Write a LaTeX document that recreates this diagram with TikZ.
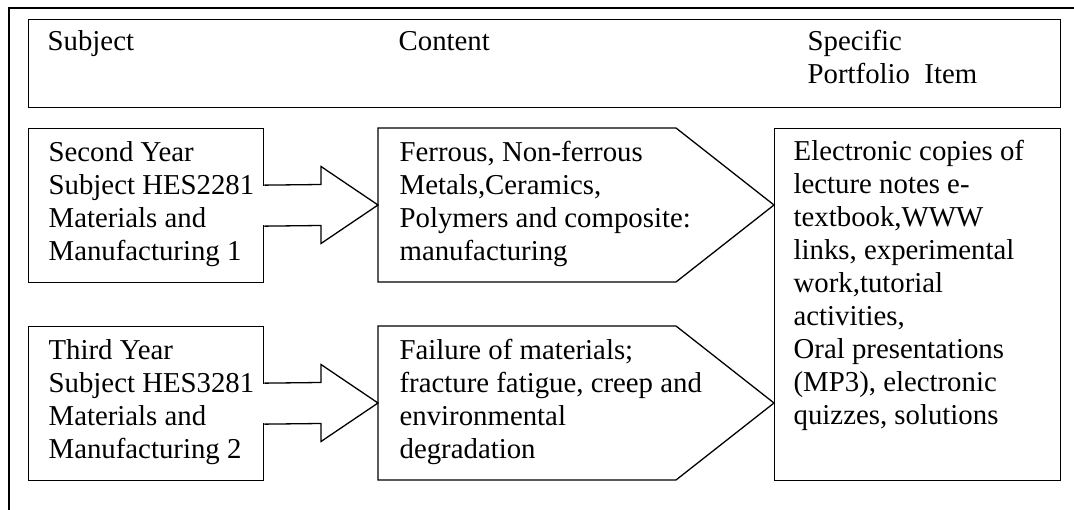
\documentclass[tikz,border=0pt]{standalone}
\usepackage{fontspec}
\setmainfont{Liberation Serif}
\usetikzlibrary{calc}
\begin{document}
\begin{tikzpicture}[x=1pt,y=-1pt,line width=1.3pt,line join=miter,
  frame/.style={draw, rectangle, inner sep=0pt, anchor=north west},
  txt/.style={inner sep=0pt, anchor=base west, font=\fontsize{28.8}{33}\selectfont},
  blockarrow/.style={draw, fill=white}]
\useasboundingbox (0,0) rectangle (1074,510);
% outer frame (top and left edges)
\coordinate (ofb) at (9,510);
\coordinate (ofc) at (9,8);
\coordinate (ofr) at (1074,8);
\draw (ofb) -- (ofc) -- (ofr);
% header
\node[frame, minimum width=1032pt, minimum height=88pt] (hdr) at (28,19) {};
\node[txt] (hsub) at (47,51) {Subject};
\node[txt] (hcon) at (398,51) {Content};
\node[txt] (hspe) at (807,51) {\parbox[t]{240pt}{Specific\\Portfolio\ \ Item}};
% subject boxes
\node[frame, minimum width=235pt, minimum height=154pt] (s1) at (28,128) {};
\node[frame, minimum width=235pt, minimum height=154pt] (s2) at (28,326) {};
\node[txt] (s1t) at (48,162) {\parbox[t]{230pt}{Second Year\\Subject HES2281\\Materials and\\Manufacturing 1}};
\node[txt] (s2t) at (48,360) {\parbox[t]{230pt}{Third Year\\Subject HES3281\\Materials and\\Manufacturing 2}};
% content chevrons
\coordinate (c1w) at (378,205);
\coordinate (c2w) at (378,403);
\coordinate (c1e) at (774,205);
\coordinate (c2e) at (774,403);
\draw (378,128) -- (676,128) -- (c1e) -- (676,282) -- (378,282) -- cycle;
\draw (378,326) -- (676,326) -- (c2e) -- (676,480) -- (378,480) -- cycle;
\node[txt] (c1t) at (399,162) {\parbox[t]{330pt}{Ferrous, Non-ferrous\\Metals,Ceramics,\\Polymers and composite:\\manufacturing}};
\node[txt] (c2t) at (399,360) {\parbox[t]{330pt}{Failure of materials;\\fracture fatigue, creep and\\environmental\\degradation}};
% portfolio box
\node[frame, minimum width=286pt, minimum height=352pt] (r) at (774,128) {};
\node[txt] (rt) at (793,161) {\parbox[t]{270pt}{Electronic copies of\\lecture notes e-\\textbook,WWW\\links, experimental\\work,tutorial\\activities,\\Oral presentations\\(MP3), electronic\\quizzes, solutions}};
% block arrows
\fill[white] ($(s1.east)+(-1.5,-19.8)$) rectangle ($(s1.east)+(2,19.8)$);
\draw[blockarrow] ($(s1.east)+(0,-20.5)$) -- ($(c1w)+(-57,-20.5)$) -- ($(c1w)+(-57,-38.5)$) -- (c1w) -- ($(c1w)+(-57,38.5)$) -- ($(c1w)+(-57,20.5)$) -- ($(s1.east)+(0,20.5)$);
\fill[white] ($(s2.east)+(-1.5,-19.8)$) rectangle ($(s2.east)+(2,19.8)$);
\draw[blockarrow] ($(s2.east)+(0,-20.5)$) -- ($(c2w)+(-57,-20.5)$) -- ($(c2w)+(-57,-38.5)$) -- (c2w) -- ($(c2w)+(-57,38.5)$) -- ($(c2w)+(-57,20.5)$) -- ($(s2.east)+(0,20.5)$);
\end{tikzpicture}
\end{document}
